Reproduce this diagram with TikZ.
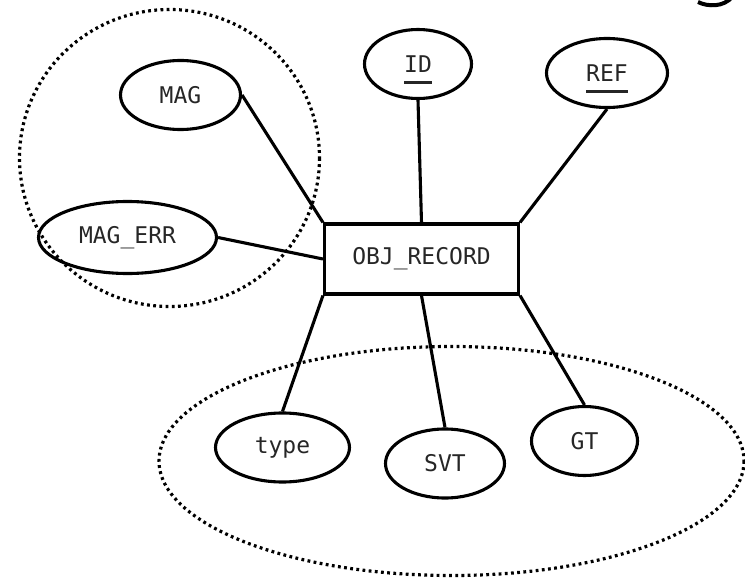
\documentclass[tikz,border=0pt]{standalone}
\usepackage{fontspec}
\setmonofont{DejaVu Sans Mono}
\usetikzlibrary{shapes.geometric}
\tikzset{
  attr/.style={ellipse, draw, line width=3.1pt, inner sep=0pt,
    font=\ttfamily\fontsize{23}{26}\selectfont, text=black!85},
  entity/.style={rectangle, draw, line width=3.1pt, inner sep=0pt,
    font=\ttfamily\fontsize{23}{26}\selectfont, text=black!85},
  link/.style={line width=3.1pt},
  group/.style={line width=3.2pt, dash pattern=on 2.8pt off 3.4pt}
}
\newcommand{\keyattr}[1]{\setbox0\hbox{#1}\rlap{\usebox0}\smash{\raisebox{-11.5pt}{\rule{\wd0}{3.2pt}}}}
\begin{document}
\begin{tikzpicture}[x=1pt,y=-1pt]
\useasboundingbox (0,0) rectangle (745,578);
% group outlines
\draw[group] (169.5,158) ellipse [x radius=150, y radius=148.5];
\draw[group] (451.5,461) ellipse [x radius=292.5, y radius=114.5];
% fragment of a glyph cut by the top edge
\draw[line width=4pt] (698,2) .. controls (708,7) and (724,7) .. (732,-3);
% entity
\node[entity, minimum width=194pt, minimum height=70pt] (rec) at (421.5,259) {OBJ\_RECORD};
% attributes
\node[attr, minimum width=120pt, minimum height=69pt] (mag) at (180.5,95) {MAG};
\node[attr, minimum width=178pt, minimum height=72pt] (merr) at (127.5,237.5) {MAG\_ERR};
\node[attr, minimum width=107pt, minimum height=69pt] (id) at (418,64) {\keyattr{ID}};
\node[attr, minimum width=121pt, minimum height=69pt] (ref) at (607,73) {\keyattr{REF}};
\node[attr, minimum width=134pt, minimum height=69pt] (type) at (282.5,447.5) {type};
\node[attr, minimum width=119pt, minimum height=69pt] (svt) at (445,463.5) {SVT};
\node[attr, minimum width=106pt, minimum height=69pt] (gt) at (584.5,441) {GT};
% connectors
\draw[link] (mag.east) -- (rec.north west);
\draw[link] (merr.east) -- (rec.west);
\draw[link] (id.south) -- (rec.north);
\draw[link] (ref.south) -- (rec.north east);
\draw[link] (rec.south west) -- (type.north);
\draw[link] (rec.south) -- (svt.north);
\draw[link] (rec.south east) -- (gt.north);
\end{tikzpicture}
\end{document}
